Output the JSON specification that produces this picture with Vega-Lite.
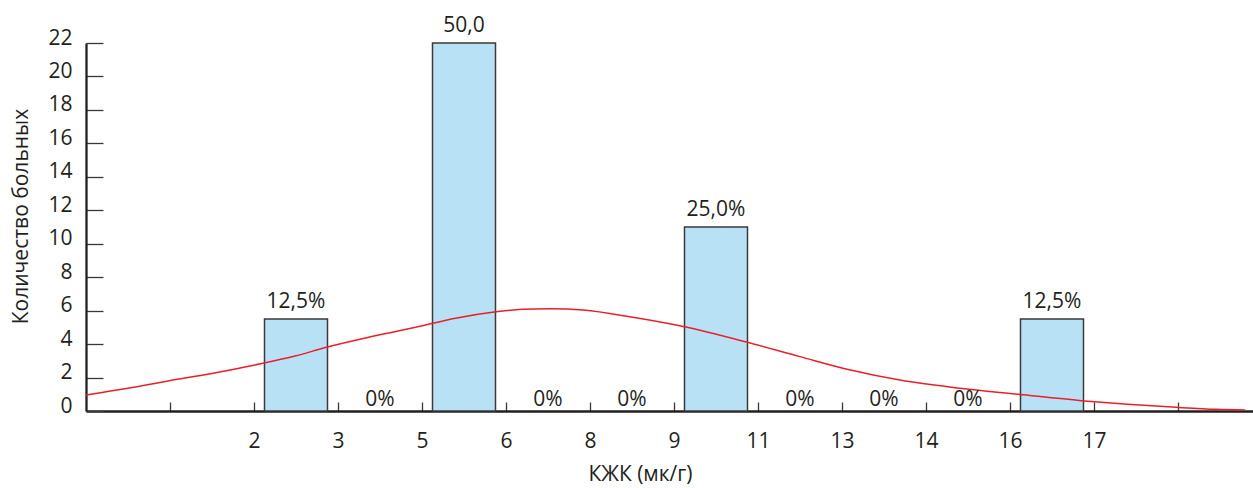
{
  "$schema": "https://vega.github.io/schema/vega-lite/v6.json",
  "width": 1167,
  "height": 368,
  "autosize": {"type": "none"},
  "padding": {"left": 86, "top": 43, "right": 0, "bottom": 77},
  "config": {
    "view": {"stroke": null},
    "font": "Open Sans",
    "text": {"font": "Open Sans", "color": "#231f20"}
  },
  "datasets": {
    "bins": [
      {"k": 2.5, "from": "2", "to": "3", "count": 5.5, "label": "12,5%"},
      {"k": 3.5, "from": "3", "to": "5", "count": 0, "label": "0%"},
      {"k": 4.5, "from": "5", "to": "6", "count": 22, "label": "50,0"},
      {"k": 5.5, "from": "6", "to": "8", "count": 0, "label": "0%"},
      {"k": 6.5, "from": "8", "to": "9", "count": 0, "label": "0%"},
      {"k": 7.5, "from": "9", "to": "11", "count": 11, "label": "25,0%"},
      {"k": 8.5, "from": "11", "to": "13", "count": 0, "label": "0%"},
      {"k": 9.5, "from": "13", "to": "14", "count": 0, "label": "0%"},
      {"k": 10.5, "from": "14", "to": "16", "count": 0, "label": "0%"},
      {"k": 11.5, "from": "16", "to": "17", "count": 5.5, "label": "12,5%"}
    ],
    "curve": [
      {"k": 0, "v": 0.96},
      {"k": 0.5, "v": 1.36},
      {"k": 0.99, "v": 1.81},
      {"k": 1.5, "v": 2.24},
      {"k": 1.98, "v": 2.72},
      {"k": 2.5, "v": 3.3},
      {"k": 2.86, "v": 3.81},
      {"k": 3.4, "v": 4.45},
      {"k": 3.96, "v": 5.05},
      {"k": 4.4, "v": 5.55},
      {"k": 4.86, "v": 5.92},
      {"k": 5.2, "v": 6.08},
      {"k": 5.52, "v": 6.12},
      {"k": 5.92, "v": 6.04},
      {"k": 6.51, "v": 5.6},
      {"k": 7.11, "v": 5.05},
      {"k": 7.85, "v": 4.14},
      {"k": 8.5, "v": 3.25},
      {"k": 9.1, "v": 2.45},
      {"k": 9.69, "v": 1.85},
      {"k": 10.4, "v": 1.36},
      {"k": 11.1, "v": 1.0},
      {"k": 11.85, "v": 0.62},
      {"k": 12.4, "v": 0.4},
      {"k": 12.98, "v": 0.22},
      {"k": 13.46, "v": 0.1},
      {"k": 13.8, "v": 0.06}
    ]
  },
  "layer": [
    {
      "data": {"name": "bins"},
      "transform": [{"filter": "datum.count > 0"}],
      "mark": {"type": "bar", "width": 63, "fill": "#b9e1f5", "stroke": "#3a3a3a", "strokeWidth": 1.5},
      "encoding": {
        "x": {
          "field": "k", "type": "quantitative",
          "scale": {"domain": [0, 13.893], "nice": false, "zero": false, "padding": 0},
          "axis": {
            "values": [1, 2, 3, 4, 5, 6, 7, 8, 9, 10, 11, 12, 13],
            "tickCount": 13,
            "labelExpr": "['', '', '2', '3', '5', '6', '8', '9', '11', '13', '14', '16', '17', ''][datum.value]",
            "grid": false,
            "domainColor": "#231f20",
            "domainWidth": 2.5,
            "tickColor": "#3a3a3a",
            "tickWidth": 1.3,
            "tickSize": -9,
            "labelFontSize": 21,
            "labelColor": "#231f20",
            "labelFont": "Open Sans",
            "labelPadding": 28,
            "labelBaseline": "top",
            "labelFlush": false,
            "labelOverlap": false,
            "title": "КЖК (мк/г)",
            "titleFont": "Open Sans",
            "titleFontSize": 21,
            "titleFontWeight": "normal",
            "titleColor": "#231f20",
            "titleX": 554,
            "titleY": 69,
            "titleBaseline": "alphabetic",
            "titleAlign": "center"
          }
        },
        "y": {
          "field": "count", "type": "quantitative",
          "scale": {"domain": [0, 22], "nice": false, "padding": 0},
          "axis": {
            "values": [0, 2, 4, 6, 8, 10, 12, 14, 16, 18, 20, 22],
            "tickCount": 12,
            "grid": false,
            "domainColor": "#231f20",
            "domainWidth": 2.3,
            "tickColor": "#3a3a3a",
            "tickWidth": 1.3,
            "tickSize": -17,
            "labelFontSize": 21,
            "labelColor": "#231f20",
            "labelFont": "Open Sans",
            "labelPadding": 31,
            "labelOverlap": false,
            "labelFlush": false,
            "labelOffset": -5,
            "title": "Количество больных",
            "titleFont": "Open Sans",
            "titleFontSize": 21,
            "titleFontWeight": "normal",
            "titleColor": "#231f20",
            "titleAngle": -90,
            "titleX": -65,
            "titleY": 173,
            "titleBaseline": "middle",
            "titleAlign": "center"
          }
        }
      }
    },
    {
      "data": {"name": "curve"},
      "mark": {"type": "line", "color": "#e8202a", "strokeWidth": 1.5, "interpolate": "monotone"},
      "encoding": {
        "x": {"field": "k", "type": "quantitative"},
        "y": {"field": "v", "type": "quantitative"}
      }
    },
    {
      "data": {"name": "bins"},
      "transform": [{"filter": "datum.count > 0"}],
      "mark": {"type": "text", "fontSize": 21, "baseline": "alphabetic", "align": "center", "dy": -11},
      "encoding": {
        "x": {"field": "k", "type": "quantitative"},
        "y": {"field": "count", "type": "quantitative"},
        "text": {"field": "label"}
      }
    },
    {
      "data": {"name": "bins"},
      "transform": [{"filter": "datum.count == 0"}],
      "mark": {"type": "text", "fontSize": 21, "baseline": "alphabetic", "align": "center", "dy": -5},
      "encoding": {
        "x": {"field": "k", "type": "quantitative"},
        "y": {"field": "count", "type": "quantitative"},
        "text": {"field": "label"}
      }
    }
  ]
}
